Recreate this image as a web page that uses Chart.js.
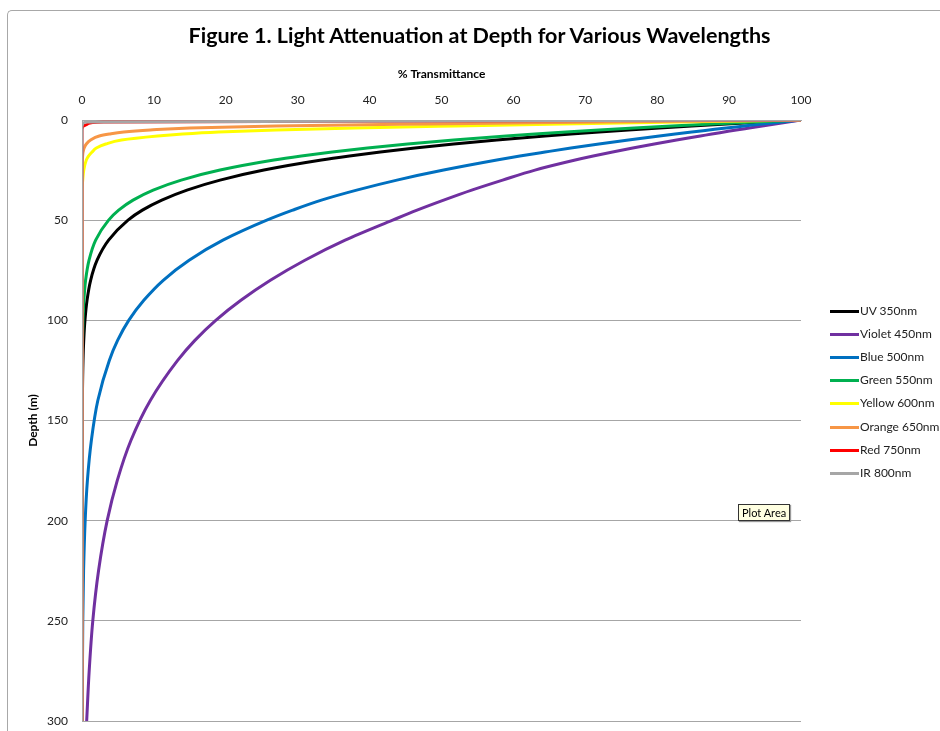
<!DOCTYPE html>
<html>
<head>
<meta charset="utf-8">
<script src="https://cdn.jsdelivr.net/npm/chart.js@4"></script>
<style>
html,body{margin:0;padding:0;background:#fff;}
#wrap{position:relative;width:940px;height:731px;overflow:hidden;background:#fff;}
#frame{position:absolute;left:7px;top:10px;width:1000px;height:800px;border-left:1px solid #A8A8A8;border-top:1px solid #A8A8A8;border-top-left-radius:5px;}
#c{position:absolute;left:0;top:0;}
#title{position:absolute;left:0;top:22px;width:959px;text-align:center;font-family:Lato,"Open Sans",sans-serif;font-weight:bold;font-size:21.5px;line-height:26px;color:#000;white-space:nowrap;}
#legend{position:absolute;left:830px;top:0;font-family:Lato,"Open Sans",sans-serif;font-size:12px;color:#222;}
.item{position:absolute;left:0;white-space:nowrap;}
.swatch{position:absolute;left:0;top:0;width:29px;height:3px;}
.lbl{position:absolute;left:30px;top:-7px;line-height:15px;}
#tip{position:absolute;left:738px;top:504px;padding:1px 3px;background:#FFFFE1;border:1px solid #333;font-family:Lato,"Open Sans",sans-serif;font-size:11px;line-height:13px;color:#000;box-shadow:1px 1px 1px #999;}
</style>
</head>
<body>
<div id="wrap">
  <div id="frame"></div>
  <canvas id="c" width="940" height="731"></canvas>
  <div id="title"></div>
  <div id="legend"></div>
  <div id="tip">Plot Area</div>
</div>
<script>
// ---- data ----
const depths = [0,1,2,3,4,5,6,7,8,10,12,14,16,18,20,25,30,35,40,45,50,60,70,80,90,100,110,120,140,160,180,200,225,250,275,300];

const uv350     = [100,94.6,89.6,84.8,80.3,76.0,71.9,68.0,64.4,57.7,51.7,46.3,41.5,37.2,33.3,25.3,19.2,14.6,11.1,8.4,6.4,3.7,2.1,1.2,0.7,0.41,0.24,0.14,0.05,0.02,0.01,0,0,0,0,0];
const violet450 = [100,98.2,96.4,94.6,92.8,91.0,89.3,87.6,86.0,82.7,79.6,76.6,73.8,71.1,68.6,63.0,58.5,54.2,50.3,46.6,43.2,36.6,31.0,26.2,22.1,18.6,15.7,13.3,9.5,6.8,4.9,3.5,2.3,1.5,1.0,0.65];
const blue500   = [100,97.3,94.6,92.1,89.6,87.2,84.8,82.5,80.3,76.0,71.9,68.0,64.4,60.9,57.7,50.3,43.8,38.2,33.3,29.3,25.7,19.6,14.9,11.3,8.6,6.5,4.95,3.8,2.2,1.3,0.75,0.44,0.22,0.11,0.06,0.03];
const green550  = [100,93.6,87.6,82.0,76.8,71.9,67.3,63.0,59.0,51.7,45.3,39.7,34.8,30.5,26.7,19.2,13.8,9.9,7.1,5.1,3.7,1.9,0.98,0.5,0.26,0.14,0.07,0.04,0.01,0,0,0,0,0,0,0];
const yellow600 = [100,83,67,52,38,27,19,14,10.5,5.5,3.3,2.0,1.4,0.9,0.6,0.25,0.1,0,0,0,0,0,0,0,0,0,0,0,0,0,0,0,0,0,0,0];
const orange650 = [100,72,48,27,15,9.5,5.8,3.8,2.4,1.2,0.6,0.3,0.15,0.08,0.04,0,0,0,0,0,0,0,0,0,0,0,0,0,0,0,0,0,0,0,0,0];
const red750    = [100,3,0.8,0.2,0.05,0,0,0,0,0,0,0,0,0,0,0,0,0,0,0,0,0,0,0,0,0,0,0,0,0,0,0,0,0,0,0];
const ir800     = [100,0.6,0.1,0,0,0,0,0,0,0,0,0,0,0,0,0,0,0,0,0,0,0,0,0,0,0,0,0,0,0,0,0,0,0,0,0];

const seriesNames  = ['UV 350nm','Violet 450nm','Blue 500nm','Green 550nm','Yellow 600nm','Orange 650nm','Red 750nm','IR 800nm'];
const seriesValues = [uv350, violet450, blue500, green550, yellow600, orange650, red750, ir800];
const seriesColors = ['#000000','#7030A0','#0070C0','#00B050','#FFFF00','#F79646','#FF0000','#A6A6A6'];

const xTickValues = [0,10,20,30,40,50,60,70,80,90,100];
const yTickValues = [0,50,100,150,200,250,300];

const titleText = 'Figure 1. Light Attenuation at Depth for Various Wavelengths';
const xTitle = '% Transmittance';
const yTitle = 'Depth (m)';

// ---- build chart ----
const FONT = 'Lato, "Open Sans", sans-serif';
document.getElementById('title').textContent = titleText;

const datasets = seriesValues.map((vals, i) => ({
  label: seriesNames[i],
  data: vals.map((v, j) => ({x: v, y: depths[j]})),
  borderColor: seriesColors[i],
  backgroundColor: seriesColors[i],
  borderWidth: 3,
  pointRadius: 0,
  showLine: true,
  fill: false,
  cubicInterpolationMode: 'monotone',
  order: seriesValues.length - i
}));

new Chart(document.getElementById('c'), {
  type: 'scatter',
  data: {datasets},
  options: {
    indexAxis: 'y',
    responsive: false,
    animation: false,
    devicePixelRatio: 1,
    layout: {padding: {left: 0, right: 139, top: 0, bottom: 10}},
    plugins: {
      legend: {display: false},
      tooltip: {enabled: false},
      title: {display: false}
    },
    scales: {
      x: {
        type: 'linear', position: 'top', min: 0, max: 100,
        afterBuildTicks: s => { s.ticks = xTickValues.map(v => ({value: v})); },
        afterFit: s => { s.height = 120; },
        grid: {display: false, drawTicks: false},
        border: {display: true, color: '#A6A6A6', width: 1},
        ticks: {color: '#222', padding: 13, font: {family: FONT, size: 12}},
        title: {display: true, text: xTitle, color: '#000', font: {family: FONT, size: 12, weight: 'bold'}, padding: {top: 67, bottom: 0}}
      },
      y: {
        type: 'linear', position: 'left', reverse: true, min: 0, max: 300,
        afterBuildTicks: s => { s.ticks = yTickValues.map(v => ({value: v})); },
        afterFit: s => { s.width = 82; s.paddingTop = 0; s.paddingBottom = 0; },
        grid: {color: '#A6A6A6', lineWidth: 1, drawTicks: false},
        border: {display: true, color: '#A6A6A6', width: 1},
        ticks: {color: '#222', padding: 14, font: {family: FONT, size: 12}},
        title: {display: true, text: yTitle, color: '#000', font: {family: FONT, size: 12, weight: 'bold'}, padding: {top: 26, bottom: 0}}
      }
    }
  }
});

// ---- legend ----
const legend = document.getElementById('legend');
const legendTop = 311, legendStep = 23.2;
seriesNames.forEach((name, i) => {
  const it = document.createElement('div');
  it.className = 'item';
  it.style.top = (legendTop + i * legendStep - 1.5) + 'px';
  const sw = document.createElement('div');
  sw.className = 'swatch';
  sw.style.background = seriesColors[i];
  const lb = document.createElement('div');
  lb.className = 'lbl';
  lb.textContent = name;
  it.appendChild(sw); it.appendChild(lb);
  legend.appendChild(it);
});
</script>
</body>
</html>
